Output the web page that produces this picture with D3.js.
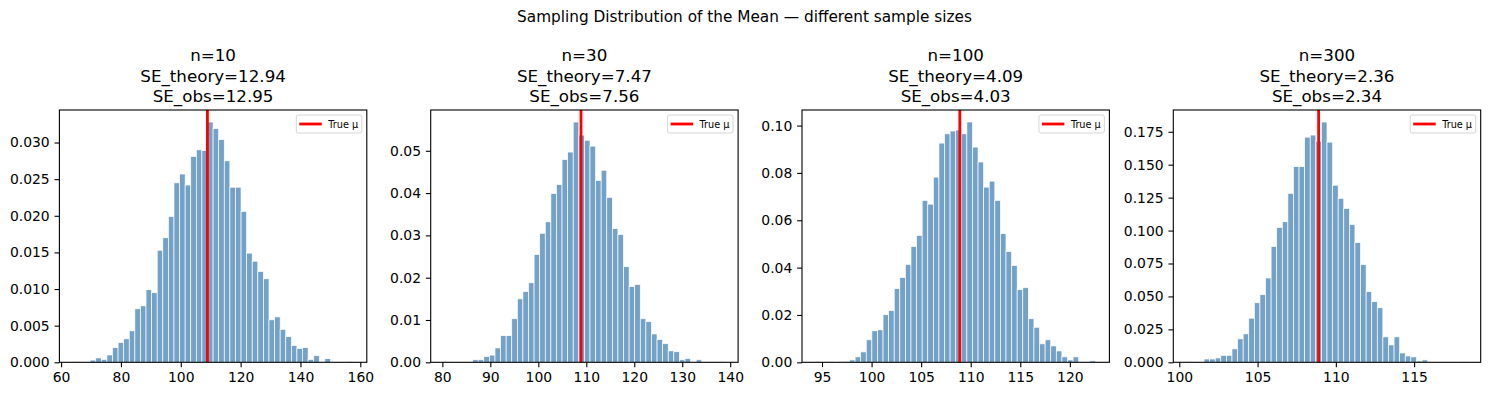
<!DOCTYPE html>
<html>
<head>
<meta charset="utf-8">
<script src="https://cdn.jsdelivr.net/npm/d3@7"></script>
<style>
  body { margin: 0; background: #fff; }
  svg { font-family: "DejaVu Sans", sans-serif; }
</style>
</head>
<body>
<div id="chart"></div>
<script>
const suptitle = "Sampling Distribution of the Mean \u2014 different sample sizes";
const sampleSizes = [10, 30, 100, 300];
const seTheory = [12.94, 7.47, 4.09, 2.36];
const seObs = [12.95, 7.56, 4.03, 2.34];
const trueMu = 108.9;

// histogram bins: first edge and width, 50 bins each
const binStarts = [64.1, 80.48, 94.39, 100.51];
const binWidths = [1.868, 1.165, 0.5638, 0.357];

const density10 = [0.0001, 0, 0,
  0.0003, 0.0006, 0.0004, 0.0010, 0.0020, 0.0027, 0.0032, 0.0043, 0.0073, 0.0077,
  0.0099, 0.0095, 0.0153, 0.0170, 0.0199, 0.0245, 0.0257, 0.0242, 0.0281, 0.0290,
  0.0289, 0.0328, 0.0319, 0.0304, 0.0275, 0.0239, 0.0239, 0.0206, 0.0149, 0.0138,
  0.0124, 0.0114, 0.0058, 0.0062, 0.0045, 0.0035, 0.0023, 0.0019, 0.0020, 0.0004,
  0.0009, 0, 0.0005,
  0, 0, 0, 0.0001];
const density30 = [0.0001, 0, 0, 0, 0,
  0.0006, 0.0006, 0.0014, 0.0017, 0.0034, 0.0063, 0.0063, 0.0103, 0.0150, 0.0167,
  0.0188, 0.0255, 0.0305, 0.0332, 0.0399, 0.0420, 0.0479, 0.0497, 0.0568, 0.0537,
  0.0525, 0.0511, 0.0430, 0.0454, 0.0390, 0.0316, 0.0302, 0.0226, 0.0179, 0.0184,
  0.0103, 0.0096, 0.0067, 0.0054, 0.0044, 0.0027, 0.0025, 0.0006, 0.0009, 0,
  0.0006,
  0, 0, 0, 0.0001];
const density100 = [0.0002, 0, 0.0002, 0, 0.0002, 0.0004,
  0.0010, 0.0023, 0.0044, 0.0095, 0.0133, 0.0137, 0.0201, 0.0218, 0.0311, 0.0358,
  0.0413, 0.0489, 0.0536, 0.0684, 0.0668, 0.0782, 0.0926, 0.0965, 0.0977, 0.0981,
  0.0965, 0.1015, 0.0909, 0.0846, 0.0740, 0.0765, 0.0684, 0.0544, 0.0468, 0.0409,
  0.0307, 0.0315, 0.0184, 0.0148, 0.0078, 0.0095, 0.0069, 0.0048, 0.0023, 0.0010,
  0.0023,
  0, 0, 0.0006];
const density300 = [0.0003, 0, 0,
  0.0025, 0.0025, 0.0033, 0.0053, 0.0053, 0.0102, 0.0178, 0.0216, 0.0335, 0.0452,
  0.0513, 0.0640, 0.0879, 0.1024, 0.1067, 0.1283, 0.1486, 0.1486, 0.1709, 0.1725,
  0.1679, 0.1824, 0.1671, 0.1344, 0.1245, 0.1168, 0.1046, 0.0909, 0.0742, 0.0536,
  0.0460, 0.0414, 0.0193, 0.0132, 0.0193, 0.0071, 0.0048, 0.0041, 0.0010, 0.0018,
  0, 0, 0, 0, 0, 0, 0.0003];
const densities = [density10, density30, density100, density300];

const xTicks = [[60, 80, 100, 120, 140, 160], [80, 90, 100, 110, 120, 130, 140],
  [95, 100, 105, 110, 115, 120], [100, 105, 110, 115]];
const yTicks = [[0, 0.005, 0.010, 0.015, 0.020, 0.025, 0.030], [0, 0.01, 0.02, 0.03, 0.04, 0.05],
  [0, 0.02, 0.04, 0.06, 0.08, 0.10], [0, 0.025, 0.05, 0.075, 0.1, 0.125, 0.15, 0.175]];
const yFormats = [".3f", ".2f", ".2f", ".3f"];

const W = 1489, H = 396;
const panelW = 307.4, panelH = 252.3, panelTop = 110, left0 = 59.4, step = 371.3;
const tickLen = 4.86, tickPad = 4.86;

const svg = d3.select("#chart").append("svg")
  .attr("width", W).attr("height", H);

svg.append("text")
  .attr("x", W / 2).attr("y", 21.5)
  .attr("text-anchor", "middle")
  .attr("font-size", 15.3)
  .text(suptitle);

sampleSizes.forEach((n, i) => {
  const a = binStarts[i], w = binWidths[i], dens = densities[i];
  const span = w * dens.length;
  const bins = dens.map((d, k) => ({ x0: a + k * w, x1: a + (k + 1) * w, d }));

  const x = d3.scaleLinear()
    .domain([a - 0.05 * span, a + span + 0.05 * span])
    .range([0, panelW]);
  const y = d3.scaleLinear()
    .domain([0, d3.max(dens) * 1.05])
    .range([panelH, 0]);

  const g = svg.append("g")
    .attr("transform", "translate(" + (left0 + i * step) + "," + panelTop + ")");

  // bars
  g.append("g").selectAll("rect")
    .data(bins)
    .enter()
    .append("rect")
    .attr("x", b => x(b.x0))
    .attr("width", b => x(b.x1) - x(b.x0))
    .attr("y", b => y(b.d))
    .attr("height", b => panelH - y(b.d))
    .attr("fill", "steelblue")
    .attr("fill-opacity", 0.75)
    .attr("stroke", "#fff")
    .attr("stroke-width", 0.7);

  // true mean line
  g.append("line")
    .attr("x1", x(trueMu)).attr("x2", x(trueMu))
    .attr("y1", 0).attr("y2", panelH)
    .attr("stroke", "red")
    .attr("stroke-width", 2.8);

  // axes
  g.append("g")
    .attr("transform", "translate(0," + panelH + ")")
    .call(d3.axisBottom(x).tickValues(xTicks[i]).tickFormat(d3.format("d"))
      .tickSizeInner(tickLen).tickSizeOuter(0).tickPadding(tickPad))
    .call(s => s.select(".domain").remove())
    .selectAll("text").attr("font-size", 13.9).attr("fill", "#000")
    .attr("font-family", "DejaVu Sans");
  g.append("g")
    .call(d3.axisLeft(y).tickValues(yTicks[i]).tickFormat(d3.format(yFormats[i]))
      .tickSizeInner(tickLen).tickSizeOuter(0).tickPadding(tickPad))
    .call(s => s.select(".domain").remove())
    .selectAll("text").attr("font-size", 13.9).attr("fill", "#000")
    .attr("font-family", "DejaVu Sans");
  g.selectAll(".tick line").attr("stroke", "#000").attr("stroke-width", 1.1);

  g.append("rect")
    .attr("width", panelW).attr("height", panelH)
    .attr("fill", "none").attr("stroke", "#000").attr("stroke-width", 1.1);

  // title
  const title = g.append("text")
    .attr("text-anchor", "middle")
    .attr("font-size", 16.7);
  ["n=" + n, "SE_theory=" + seTheory[i].toFixed(2), "SE_obs=" + seObs[i].toFixed(2)]
    .forEach((t, k) => {
      title.append("tspan").attr("x", panelW / 2).attr("y", -49 + k * 20.6).text(t);
    });

  // legend
  const lg = g.append("g").attr("transform", "translate(" + (panelW - 70.5) + ",5)");
  lg.append("rect")
    .attr("width", 65.5).attr("height", 18).attr("rx", 2)
    .attr("fill", "#fff").attr("fill-opacity", 0.8)
    .attr("stroke", "#d6d6d6").attr("stroke-width", 1);
  lg.append("line")
    .attr("x1", 3).attr("x2", 25.5).attr("y1", 9).attr("y2", 9)
    .attr("stroke", "red").attr("stroke-width", 2.8);
  lg.append("text")
    .attr("x", 32).attr("y", 12.5)
    .attr("font-size", 9.7)
    .text("True \u03bc");
});
</script>
</body>
</html>
